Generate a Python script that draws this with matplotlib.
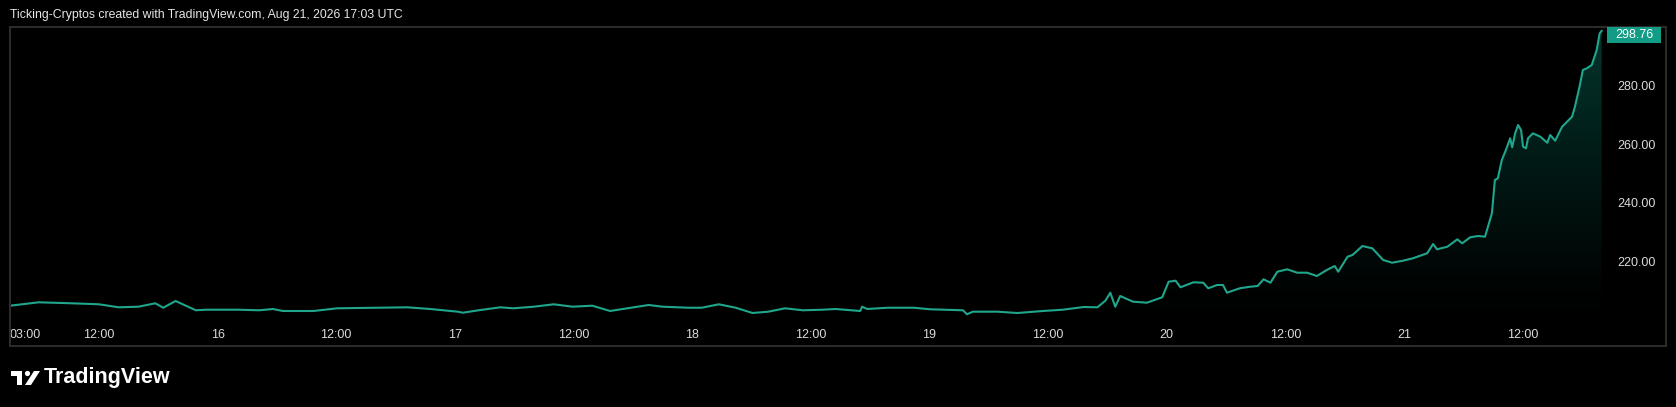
import pandas as pd
import numpy as np
import matplotlib
matplotlib.use("Agg")
import matplotlib.pyplot as plt
import matplotlib.dates as mdates
from matplotlib.patches import Polygon, Circle, Rectangle

# -----------------------
# DATA (hours since Aug 15 2026 00:00, price)
# -----------------------
hours = [3.0, 5.9, 9.3, 12.0, 14.0, 16.0, 17.7, 18.5, 19.75, 20.8, 21.8, 22.8,
         26.1, 28.2, 29.6, 30.6, 33.7, 36.1, 40.5, 43.2, 45.5, 48.3, 48.8, 50.6,
         52.6, 53.9, 56.0, 58.0, 59.9, 61.9, 63.7, 65.0, 67.6, 69.0, 71.6, 73.0,
         74.7, 76.4, 78.1, 79.7, 81.4, 83.2, 85.2, 86.5, 89.0, 89.2, 89.7, 91.8,
         94.4, 96.1, 99.4, 99.8, 100.4, 102.9, 104.9, 107.5, 109.5, 111.6, 113.0,
         113.8, 114.3, 114.8, 115.3, 116.6, 118.0, 119.55, 120.2, 120.9, 121.4,
         122.7, 123.7, 124.2, 125.1, 125.7, 126.1, 127.4, 128.45, 129.2, 129.8,
         130.5, 131.2, 132.2, 133.2, 134.2, 135.2, 136.2, 137.0, 137.35, 138.3,
         138.8, 139.8, 140.8, 141.9, 142.8, 143.9, 144.9, 146.35, 146.95, 147.35,
         148.4, 149.4, 149.9, 150.7, 151.5, 152.2, 152.5, 152.9, 153.2, 153.5,
         153.9, 154.25, 154.75, 154.95, 155.25, 155.55, 155.85, 156.05, 156.35,
         156.55, 157.05, 157.8, 158.5, 158.8, 159.3, 160.0, 160.5, 161.0, 161.3,
         161.8, 162.1, 162.5, 163.0, 163.5, 163.8, 164.0]
prices = [204.70, 205.86, 205.52, 205.18, 204.15, 204.36, 205.52, 204.01, 206.31,
          204.70, 203.13, 203.33, 203.33, 203.13, 203.57, 202.89, 202.89, 203.81,
          204.01, 204.15, 203.57, 202.65, 202.30, 203.23, 204.15, 203.81, 204.36,
          205.18, 204.36, 204.70, 202.89, 203.57, 204.94, 204.36, 204.01, 204.01,
          205.18, 204.01, 202.20, 202.65, 203.81, 203.13, 203.33, 203.57, 202.89,
          204.36, 203.57, 204.01, 204.01, 203.47, 203.13, 201.76, 202.65, 202.65,
          202.20, 202.89, 203.33, 204.25, 204.15, 206.41, 209.15, 204.36, 208.02,
          206.07, 205.73, 207.57, 212.91, 213.26, 211.00, 212.71, 212.57, 210.66,
          211.79, 211.79, 209.15, 210.66, 211.20, 211.44, 213.74, 212.57, 216.34,
          217.16, 216.00, 216.00, 214.87, 216.92, 218.29, 216.34, 221.47, 222.05,
          225.13, 224.35, 220.34, 219.42, 220.10, 220.92, 222.64, 225.82, 224.00,
          224.89, 227.43, 226.06, 228.11, 228.56, 228.32, 231.74, 236.33, 247.73,
          248.31, 254.57, 257.41, 262.00, 258.92, 263.71, 266.55, 264.84, 259.13,
          258.58, 262.00, 263.71, 262.55, 260.49, 263.13, 261.18, 265.97, 267.68,
          269.39, 272.82, 280.24, 285.38, 285.96, 287.09, 292.22, 297.94, 298.76]

tick_hours = [3, 12, 24, 36, 48, 60, 72, 84, 96, 108, 120, 132, 144, 156]
tick_labels = ["03:00", "12:00", "16", "12:00", "17", "12:00", "18", "12:00",
               "19", "12:00", "20", "12:00", "21", "12:00"]
price_ticks = [220, 240, 260, 280]

title = "Ticking-Cryptos created with TradingView.com, Aug 21, 2026 17:03 UTC"

# -----------------------
# STYLE
# -----------------------
plt.rcParams['font.family'] = ['Liberation Sans', 'DejaVu Sans']
bg = "#000000"
line_c = "#1fa68c"
label_c = "#129c85"
txt_c = "#dadada"
frame_c = "#2b2b2b"

W, H = 1676, 407
base = pd.Timestamp("2026-08-15")
t = base + pd.to_timedelta(hours, unit="h")

fig = plt.figure(figsize=(W / 100, H / 100), dpi=100, facecolor=bg)
ax = fig.add_axes([10 / W, 85 / H, 1595 / W, 295 / H])
ax.set_facecolor(bg)

ymin, ymax = 199.12, 300.1
x0 = base + pd.Timedelta(hours=3.07)
x1 = base + pd.Timedelta(hours=164.34)

ax.plot(t, prices, color=line_c, lw=1.5, zorder=3, solid_joinstyle="round")

# gradient area under the line
poly = ax.fill_between(t, prices, ymin, color="none", lw=0)
grad = np.zeros((256, 1, 4))
grad[:, 0, 0] = 8 / 255
grad[:, 0, 1] = 153 / 255
grad[:, 0, 2] = 129 / 255
grad[:, 0, 3] = np.linspace(0.0, 0.42, 256) ** 1.2
im = ax.imshow(grad, aspect="auto", origin="lower", zorder=2,
               extent=[mdates.date2num(t[0]), mdates.date2num(t[-1]), ymin, max(prices)])
im.set_clip_path(poly.get_paths()[0], transform=ax.transData)

ax.set_xlim(x0, x1)
ax.set_ylim(ymin, ymax)

ax.set_xticks(base + pd.to_timedelta(tick_hours, unit="h"))
ax.set_xticklabels(tick_labels)
ax.get_xticklabels()[0].set_ha("left")
ax.yaxis.tick_right()
ax.set_yticks(price_ticks)
ax.set_yticklabels([f"{p:.2f}" for p in price_ticks])
ax.tick_params(axis="x", length=0, pad=5, labelsize=9, labelcolor=txt_c)
ax.tick_params(axis="y", length=0, pad=9, labelsize=9, labelcolor=txt_c)
for s in ax.spines.values():
    s.set_visible(False)

# overlay in pixel coordinates for frame, title, logo
ov = fig.add_axes([0, 0, 1, 1], facecolor="none")
ov.set_xlim(0, W)
ov.set_ylim(H, 0)
ov.axis("off")
ov.add_patch(Rectangle((10, 26.5), 1656, 319, fill=False, ec=frame_c, lw=1.5))

# last price label
ov.add_patch(Rectangle((1607, 27), 54, 16, fc=label_c, ec="none"))
ov.text(1634, 35.5, f"{prices[-1]:.2f}", color="white", fontsize=9,
        ha="center", va="center")

ov.text(10, 15, title, color="#e6e6e6", fontsize=8.8, ha="left", va="center")

# TradingView logo
ov.add_patch(Polygon([(11, 371), (22, 371), (22, 385), (17, 385), (17, 376), (11, 376)],
                     closed=True, fc="white", ec="none"))
ov.add_patch(Circle((27.5, 373.5), 2.6, fc="white", ec="none"))
ov.add_patch(Polygon([(25, 385), (31, 385), (40, 371), (34, 371)],
                     closed=True, fc="white", ec="none"))
ov.text(44, 378, "TradingView", color="white", fontsize=15.5, fontweight="bold",
        ha="left", va="center")

fig.savefig("out.png", dpi=100, facecolor=bg)
